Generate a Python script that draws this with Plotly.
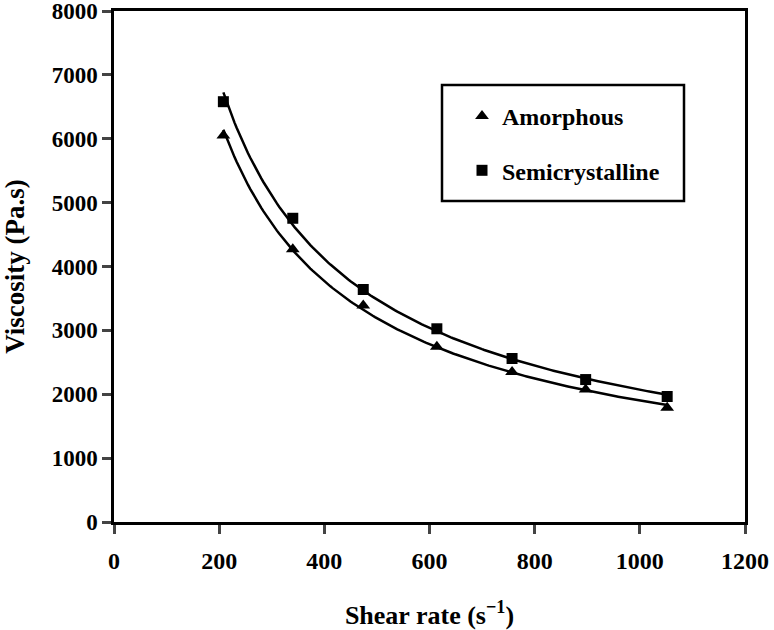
import numpy as np
import plotly.graph_objects as go

shear_rate = [208, 340, 474, 614, 757, 897, 1052]
amorphous = [6050, 4270, 3390, 2745, 2350, 2075, 1790]
semicrystalline = [6580, 4755, 3640, 3025, 2560, 2230, 1965]

x_ticks = [0, 200, 400, 600, 800, 1000, 1200]
y_ticks = [0, 1000, 2000, 3000, 4000, 5000, 6000, 7000, 8000]

FONT = "Liberation Serif"

W, H = 774, 630
ML, MR, MT, MB = 114, 29, 11, 108
PW, PH = W - ML - MR, H - MT - MB

def px_x(p):  # window pixel -> paper x
    return (p - ML) / PW

def px_y(p):  # window pixel -> paper y
    return (H - MB - p) / PH

def power_fit(x, y):
    b, a = np.polyfit(np.log(x), np.log(y), 1)
    xs = np.linspace(min(x), max(x), 200)
    return xs, np.exp(a) * xs ** b

fig = go.Figure()
for name, ys, sym, size, grp in [("Amorphous", amorphous, "triangle-up", 12, "a"),
                                  ("Semicrystalline", semicrystalline, "square", 11, "b")]:
    xs, yf = power_fit(shear_rate, ys)
    fig.add_trace(go.Scatter(x=xs, y=yf, mode="lines", line=dict(color="black", width=2.5),
                             showlegend=False, hoverinfo="skip"))
    fig.add_trace(go.Scatter(x=shear_rate, y=ys, mode="markers", name=name, legendgroup=grp,
                             marker=dict(symbol=sym, size=size, color="black")))

# legend frame
fig.add_shape(type="rect", xref="paper", yref="paper",
              x0=px_x(442), x1=px_x(684), y0=px_y(201), y1=px_y(85),
              line=dict(color="black", width=2.5), fillcolor="white", layer="below")

fig.update_layout(
    width=W, height=H,
    margin=dict(l=ML, r=MR, t=MT, b=MB),
    paper_bgcolor="white", plot_bgcolor="white",
    font=dict(family=FONT, size=24, color="black"),
    legend=dict(x=px_x(462), y=px_y(94), xanchor="left", yanchor="top",
                borderwidth=0, bgcolor="rgba(0,0,0,0)",
                font=dict(family=FONT, size=24, color="black", weight="bold"),
                traceorder="grouped", tracegroupgap=20, itemsizing="trace"),
    xaxis=dict(range=[0, 1200], tickvals=x_ticks, ticks="outside", ticklen=9, tickwidth=2.5,
               showline=True, linewidth=2.5, linecolor="black", mirror=True,
               showgrid=False, zeroline=False, automargin=False,
               ticklabeloverflow="allow", ticklabelstandoff=6,
               tickfont=dict(family=FONT, size=24, weight="bold"),
               title=dict(text="Shear rate (s<sup>−1</sup>)", standoff=38,
                          font=dict(family=FONT, size=26, weight="bold"))),
    yaxis=dict(range=[0, 8000], tickvals=y_ticks, ticks="outside", ticklen=9, tickwidth=2.5,
               showline=True, linewidth=2.5, linecolor="black", mirror=True,
               showgrid=False, zeroline=False, automargin=False,
               ticklabeloverflow="allow",
               tickfont=dict(family=FONT, size=23, weight="bold"),
               title=dict(text="Viscosity (Pa.s)", standoff=29,
                          font=dict(family=FONT, size=27, weight="bold"))),
)

fig.write_html("out.html", config={"displayModeBar": False},
               post_script="document.body.style.margin='0';")
